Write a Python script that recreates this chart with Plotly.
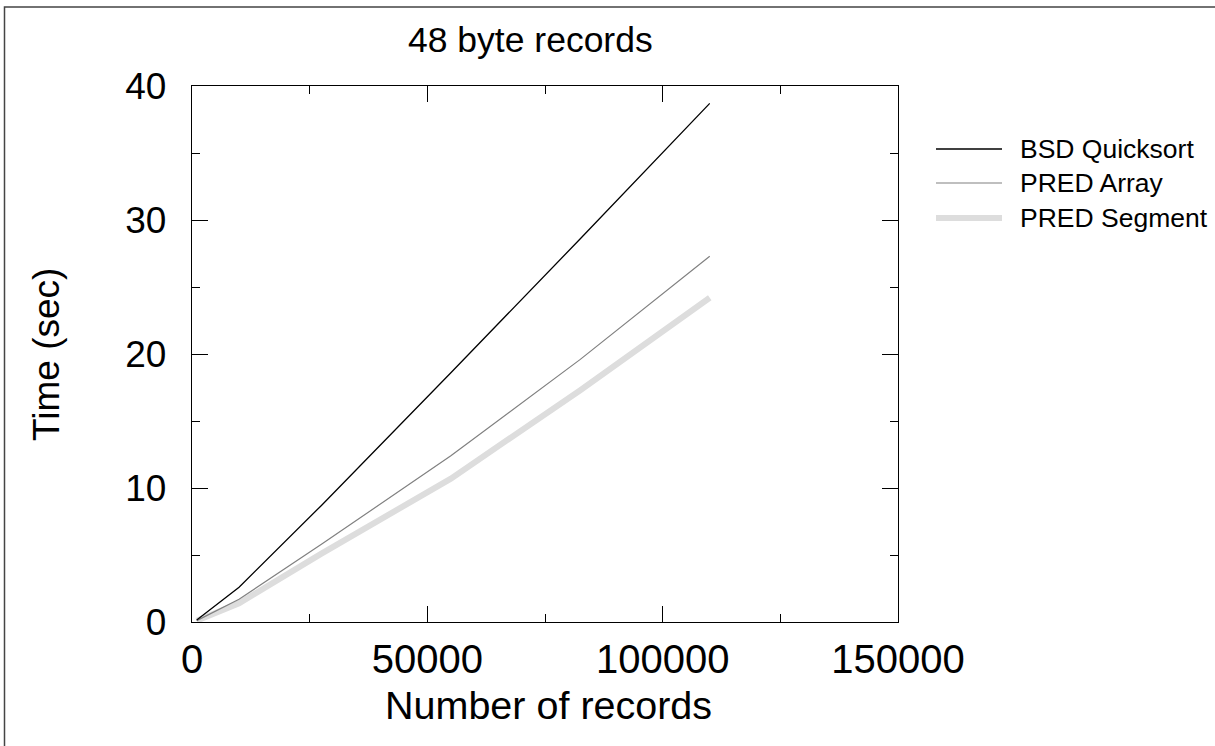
import plotly.graph_objects as go

# ---- data ----
records = [1000, 10000, 27500, 55000, 82500, 110000]
bsd_quicksort = [0.15, 2.6, 8.7, 18.6, 28.6, 38.7]
pred_array = [0.1, 1.7, 5.8, 12.4, 19.6, 27.3]
pred_segment = [0.1, 1.4, 5.1, 10.7, 17.3, 24.2]

x_ticks = [0, 50000, 100000, 150000]
y_ticks = [0, 10, 20, 30, 40]

series_names = ["BSD Quicksort", "PRED Array", "PRED Segment"]
series_colors = ["#000000", "#808080", "#dddddd"]
series_widths = [1.3, 1.2, 6]

W, H = 1215, 746
L, R, T, B = 192, 898, 86, 622  # plot area in pixels
FONT = "Liberation Sans, Arial, Helvetica, sans-serif"


def px(xp):
    return (xp - L) / (R - L)


def py(yp):
    return (B - yp) / (B - T)


fig = go.Figure()
order = [2, 1, 0]
all_series = [bsd_quicksort, pred_array, pred_segment]
for i in order:
    fig.add_trace(go.Scatter(x=records, y=all_series[i], mode="lines", name=series_names[i],
                             line=dict(color=series_colors[i], width=series_widths[i]),
                             showlegend=False))

axis_common = dict(
    showgrid=False, zeroline=False, showline=True, linecolor="#000000",
    linewidth=1.4, mirror="ticks", ticks="inside", ticklen=16, tickwidth=1.3,
    tickcolor="#000000",
)

fig.update_xaxes(range=[0, 150000], tickvals=x_ticks,
                 ticktext=[str(v) for v in x_ticks],
                 tickfont=dict(family=FONT, size=40, color="#000000"),
                 minor=dict(ticks="inside", ticklen=8, tickwidth=1.3,
                            tickcolor="#000000", dtick=25000, showgrid=False),
                 ticklabelstandoff=2,
                 **axis_common)
fig.update_yaxes(range=[0, 40], tickvals=y_ticks,
                 ticktext=[str(v) for v in y_ticks],
                 tickfont=dict(family=FONT, size=37, color="#000000"),
                 minor=dict(ticks="inside", ticklen=8, tickwidth=1.3,
                            tickcolor="#000000", dtick=5, showgrid=False),
                 ticklabelstandoff=17,
                 **axis_common)

annotations = [
    dict(text="48 byte records", x=px(530), y=py(40), xref="paper", yref="paper",
         showarrow=False, font=dict(family=FONT, size=35.5, color="#000"),
         xanchor="center", yanchor="middle"),
    dict(text="Number of records", x=px(548), y=py(705), xref="paper", yref="paper",
         showarrow=False, font=dict(family=FONT, size=39.5, color="#000"),
         xanchor="center", yanchor="middle"),
    dict(text="Time (sec)", x=px(46), y=py(355), xref="paper", yref="paper",
         showarrow=False, textangle=-90, font=dict(family=FONT, size=37, color="#000"),
         xanchor="center", yanchor="middle"),
]

shapes = [
    dict(type="rect", xref="paper", yref="paper", x0=px(4.5), y0=py(1000),
         x1=px(1400), y1=py(7), line=dict(color="#444444", width=1.5),
         fillcolor="rgba(0,0,0,0)", layer="below"),
]

legend_rows = [149, 183, 218]
for name, c, w, yy in zip(series_names, series_colors, series_widths, legend_rows):
    shapes.append(dict(type="line", xref="paper", yref="paper", x0=px(936), x1=px(1002),
                       y0=py(yy), y1=py(yy), line=dict(color=c, width=w)))
    annotations.append(dict(text=name, x=px(1018), y=py(yy), xref="paper", yref="paper",
                            showarrow=False, xanchor="left", yanchor="middle",
                            font=dict(family=FONT, size=26.5, color="#000")))

fig.update_layout(
    width=W, height=H, autosize=False,
    margin=dict(l=L, r=W - R, t=T, b=H - B),
    plot_bgcolor="#ffffff", paper_bgcolor="#ffffff",
    annotations=annotations, shapes=shapes, showlegend=False,
)

fig.write_html("out.html", config={"displayModeBar": False},
               post_script="document.body.style.margin='0';document.body.style.overflow='hidden';")
